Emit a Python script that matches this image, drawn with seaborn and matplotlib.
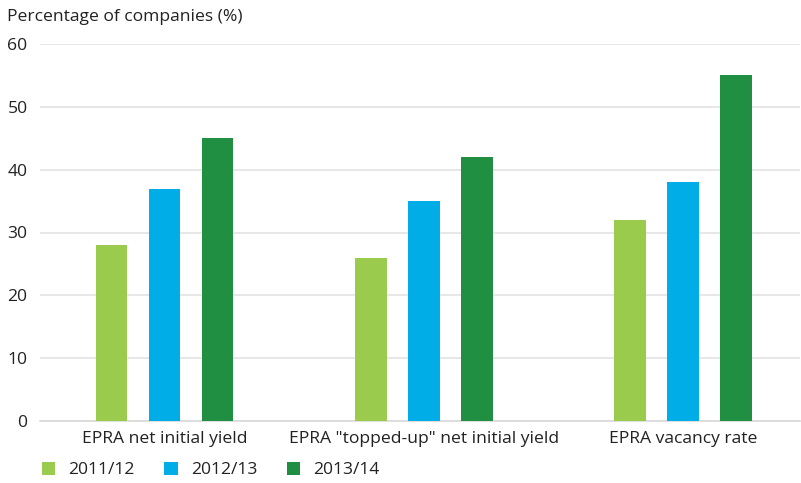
import pandas as pd
import seaborn as sns
import matplotlib.pyplot as plt

# chart data
measures = ['EPRA net initial yield', 'EPRA "topped-up" net initial yield', 'EPRA vacancy rate']
years = ['2011/12', '2012/13', '2013/14']
pct_2011 = [28, 26, 32]
pct_2012 = [37, 35, 38]
pct_2013 = [45, 42, 55]
colors = ['#9BCB4C', '#00ADE6', '#218F41']

df = pd.DataFrame({
    'measure': measures * 3,
    'year': [y for y in years for _ in measures],
    'pct': pct_2011 + pct_2012 + pct_2013,
})

sns.set_style('white')
plt.rcParams['font.family'] = ['Open Sans', 'DejaVu Sans']
fs = 12.6

fig = plt.figure(figsize=(8.01, 4.83), dpi=100)
ax = fig.add_axes([40 / 801, 1 - 421 / 483, 760 / 801, (421 - 44) / 483])

sns.barplot(data=df, x='measure', y='pct', hue='year', palette=colors,
            width=0.612, gap=0.4, saturation=1, linewidth=0, ax=ax, zorder=3)

ax.set_xlim(-0.48, 2.45)
ax.set_ylim(0, 60)
ax.set_yticks(range(0, 61, 10))
ax.yaxis.grid(True, color='#E3E3E3', linewidth=1.2, zorder=0)
ax.set_axisbelow(True)
for s in ['top', 'right', 'left']:
    ax.spines[s].set_visible(False)
ax.spines['bottom'].set_color('#D9D9D9')
ax.spines['bottom'].set_linewidth(1.2)
ax.tick_params(axis='both', length=0, labelsize=fs, colors='#222222')
ax.tick_params(axis='y', pad=9)
ax.tick_params(axis='x', pad=7)
ax.set_xlabel('')
ax.set_ylabel('')

fig.text(7 / 801, 1 - 17 / 483, 'Percentage of companies (%)', fontsize=fs,
         color='#222222', va='center', ha='left')

handles, labels = ax.get_legend_handles_labels()
ax.get_legend().remove()
leg = fig.legend(handles, labels, loc='center left', bbox_to_anchor=(42 / 801, 1 - 470 / 483),
                 ncol=3, frameon=False, fontsize=fs, handlelength=0.75, handleheight=0.75,
                 handletextpad=0.75, columnspacing=1.7, borderaxespad=0, borderpad=0)
for t in leg.get_texts():
    t.set_color('#222222')

fig.savefig('out.png', dpi=100)
